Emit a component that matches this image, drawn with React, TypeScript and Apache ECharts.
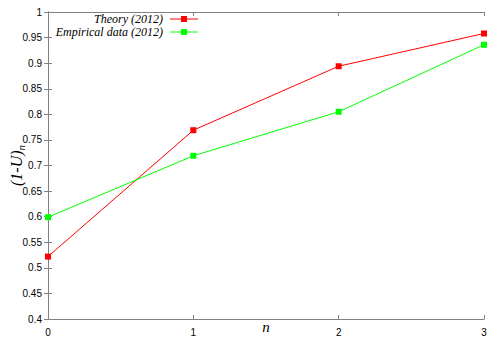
import React, { useEffect, useRef } from "react";
import * as echarts from "echarts";

const nValues = [0, 1, 2, 3];
const theory = [0.522, 0.769, 0.894, 0.958];
const empirical = [0.599, 0.719, 0.805, 0.936];
const seriesNames = ["Theory (2012)", "Empirical data (2012)"];
const seriesColors = ["#ff0000", "#00ff00"];

export default function App() {
  const ref = useRef<HTMLDivElement>(null);
  useEffect(() => {
    const chart = echarts.init(ref.current!, null, { renderer: "svg" });
    const axisColor = "#808080";
    const labelStyle = { color: "#000", fontSize: 10, fontFamily: "Liberation Sans" };
    const legendX = 163;
    const legendY = [19, 32];
    const legendGraphics: any[] = [];
    seriesNames.forEach((name, i) => {
      legendGraphics.push({
        type: "text",
        x: legendX,
        y: legendY[i],
        style: {
          text: name,
          align: "right",
          verticalAlign: "middle",
          fontFamily: "Liberation Serif",
          fontStyle: "italic",
          fontSize: 12,
          lineHeight: 12,
          fill: "#000",
        },
      });
      legendGraphics.push({
        type: "line",
        shape: { x1: 170, y1: legendY[i], x2: 198, y2: legendY[i] },
        style: { stroke: seriesColors[i], lineWidth: 1 },
      });
      legendGraphics.push({
        type: "rect",
        shape: { x: 181, y: legendY[i] - 3, width: 6, height: 6 },
        style: { fill: seriesColors[i] },
      });
    });
    chart.setOption({
      animation: false,
      grid: { left: 48, right: 16, top: 12, bottom: 31, containLabel: false, outerBoundsMode: "none" },
      xAxis: [
        {
          type: "value",
          min: 0,
          max: 3,
          interval: 1,
          name: "n",
          nameLocation: "middle",
          nameGap: 0,
          nameMoveOverlap: false,
          nameTextStyle: { fontFamily: "Liberation Serif", fontStyle: "italic", fontSize: 15, color: "#000", verticalAlign: "top" },
          axisLine: { show: true, lineStyle: { color: axisColor } },
          axisTick: { inside: true, length: 4, lineStyle: { color: axisColor } },
          axisLabel: { ...labelStyle, margin: 8 },
          splitLine: { show: false },
        },
        {
          type: "value",
          position: "top",
          min: 0,
          max: 3,
          interval: 1,
          axisLine: { show: true, lineStyle: { color: axisColor } },
          axisTick: { inside: true, length: 4, lineStyle: { color: axisColor } },
          axisLabel: { show: false },
          splitLine: { show: false },
        },
      ],
      yAxis: [
        {
          type: "value",
          min: 0.4,
          max: 1,
          interval: 0.05,
          name: "{a|(1-U)}{b|n}",
          nameLocation: "middle",
          nameRotate: 90,
          nameGap: 22,
          nameMoveOverlap: false,
          nameTextStyle: {
            rich: {
              a: { fontFamily: "Liberation Serif", fontStyle: "italic", fontSize: 16, color: "#000" },
              b: { fontFamily: "Liberation Serif", fontStyle: "italic", fontSize: 11, color: "#000", padding: [8, 0, 0, 0] },
            },
          },
          axisLine: { show: true, lineStyle: { color: axisColor } },
          axisTick: { inside: true, length: 4, lineStyle: { color: axisColor } },
          axisLabel: { ...labelStyle, margin: 6 },
          splitLine: { show: false },
        },
        {
          type: "value",
          position: "right",
          min: 0.4,
          max: 1,
          interval: 0.05,
          axisLine: { show: true, lineStyle: { color: axisColor } },
          axisTick: { inside: true, length: 4, lineStyle: { color: axisColor } },
          axisLabel: { show: false },
          splitLine: { show: false },
        },
      ],
      series: [
        {
          name: seriesNames[0],
          type: "line",
          data: nValues.map((n, i) => [n, theory[i]]),
          symbol: "rect",
          symbolSize: 6,
          itemStyle: { color: seriesColors[0] },
          lineStyle: { color: seriesColors[0], width: 1 },
        },
        {
          name: seriesNames[1],
          type: "line",
          data: nValues.map((n, i) => [n, empirical[i]]),
          symbol: "rect",
          symbolSize: 6,
          itemStyle: { color: seriesColors[1] },
          lineStyle: { color: seriesColors[1], width: 1 },
        },
      ],
      graphic: legendGraphics,
    });
    return () => chart.dispose();
  }, []);
  return (
    <div
      ref={ref}
      style={{ position: "fixed", left: 0, top: 0, width: 500, height: 350, background: "#fff" }}
    />
  );
}
